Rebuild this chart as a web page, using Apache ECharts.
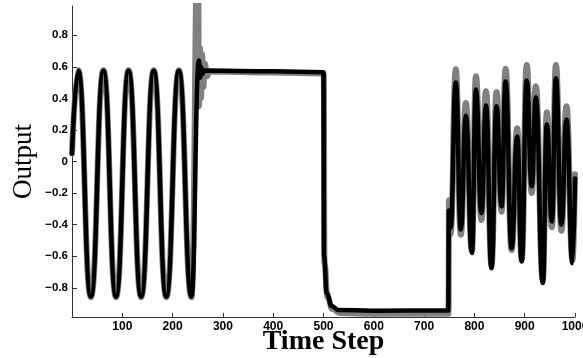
<!DOCTYPE html>
<html>
<head>
<meta charset="utf-8">
<script src="https://cdn.jsdelivr.net/npm/echarts@6/dist/echarts.min.js"></script>
<style>
html,body{margin:0;padding:0;background:#fff;}
#chart{width:583px;height:358px;}
</style>
</head>
<body>
<div id="chart"></div>
<script>
// Tick values
const xTicks = [100, 200, 300, 400, 500, 600, 700, 800, 900, 1000];
const yTicks = [-0.8, -0.6, -0.4, -0.2, 0, 0.2, 0.4, 0.6, 0.8];

// Gray series (target), [time step, value] (extrema and corners)
const targetSeries = [
  [0, 0.05], [12.5, 0.578], [37.5, -0.86], [62.5, 0.578], [87.5, -0.86], [112.5, 0.578],
  [137.5, -0.86], [162.5, 0.578], [187.5, -0.86], [212.5, 0.578], [237.5, -0.86],
  [250.5, 1.4], [252.5, 0.35], [254.5, 0.72], [256.5, 0.4], [258.5, 0.68], [261, 0.47],
  [264, 0.62], [268, 0.54], [273, 0.57], [400, 0.563], [500.5, 0.558],
  [502, -0.65], [508, -0.86], [518, -0.935], [532, -0.96], [600, -0.965], [748.5, -0.965],
  [749.5, -0.245], [752.5, -0.46],
  [763, 0.585], [773, -0.464], [783, 0.37], [795, -0.565], [803, 0.54], [814, -0.37],
  [823, 0.445], [834, -0.66], [844, 0.44], [854, -0.318], [862, 0.587], [874, -0.561],
  [885, 0.21], [894, -0.62], [904, 0.612], [914, -0.2], [922, 0.477], [936, -0.75],
  [944, 0.312], [954, -0.417], [962, 0.612], [973, -0.438], [983, 0.35], [995, -0.625],
  [1000, -0.08]
];

// Black series (output)
const outputSeries = [
  [0, 0.05], [12.5, 0.575], [37.5, -0.855], [62.5, 0.575], [87.5, -0.855], [112.5, 0.575],
  [137.5, -0.855], [162.5, 0.575], [187.5, -0.855], [212.5, 0.575], [237.5, -0.855],
  [252.5, 0.64], [254.5, 0.53], [256.5, 0.6], [259, 0.555], [263, 0.576],
  [400, 0.571], [500, 0.566],
  [501, -0.6], [506.5, -0.835], [516, -0.915], [530, -0.94], [600, -0.945], [748, -0.944],
  [749.3, -0.31], [752.5, -0.42],
  [763, 0.50], [773, -0.43], [783, 0.29], [795, -0.58], [803, 0.456], [814, -0.327],
  [823, 0.355], [834, -0.676], [844, 0.35], [854, -0.284], [862, 0.507], [874, -0.55],
  [885, 0.158], [894, -0.633], [904, 0.513], [914, -0.157], [922, 0.405], [936, -0.77],
  [944, 0.234], [954, -0.38], [962, 0.528], [973, -0.40], [983, 0.266], [995, -0.644],
  [1000, -0.107]
];

const chart = echarts.init(document.getElementById('chart'), null, {renderer: 'canvas'});
const labelFont = {color: '#000', fontWeight: 'bold', fontFamily: 'Liberation Sans, Arial, sans-serif'};
chart.setOption({
  animation: false,
  backgroundColor: '#fff',
  grid: {left: 72, right: 8, top: 6, bottom: 41, containLabel: false, outerBoundsMode: 'none'},
  xAxis: {
    type: 'value', min: 0, max: 1000,
    name: 'Time Step', nameLocation: 'middle', nameGap: 11, nameMoveOverlap: false,
    nameTextStyle: {fontFamily: 'Liberation Serif, Times New Roman, serif', fontSize: 28, fontWeight: 'bold', color: '#000'},
    axisLine: {show: true, onZero: false, lineStyle: {color: '#333', width: 1}},
    axisTick: {show: true, inside: true, length: 4, customValues: xTicks, lineStyle: {color: '#333'}},
    axisLabel: Object.assign({fontSize: 12, margin: 4, customValues: xTicks, hideOverlap: false,
      formatter: v => String(v)}, labelFont),
    splitLine: {show: false}
  },
  yAxis: {
    type: 'value', min: -0.985, max: 0.985,
    name: 'Output', nameLocation: 'middle', nameGap: 35, nameRotate: 90, nameMoveOverlap: false,
    nameTextStyle: {fontFamily: 'Liberation Serif, Times New Roman, serif', fontSize: 27, color: '#000'},
    axisLine: {show: true, onZero: false, lineStyle: {color: '#333', width: 1}},
    axisTick: {show: true, inside: true, length: 5, customValues: yTicks, lineStyle: {color: '#333'}},
    axisLabel: Object.assign({fontSize: 11.5, margin: 4, customValues: yTicks,
      formatter: v => (v < 0 ? '\u2212' + Math.abs(v) : String(v))}, labelFont),
    splitLine: {show: false}
  },
  series: [
    {
      type: 'line', data: targetSeries, showSymbol: false, smooth: 0.5, smoothMonotone: 'x',
      lineStyle: {color: '#808080', width: 6, cap: 'round', join: 'round'}, z: 1
    },
    {
      type: 'line', data: outputSeries, showSymbol: false, smooth: 0.5, smoothMonotone: 'x',
      lineStyle: {color: '#000', width: 4.5, cap: 'round', join: 'round'}, z: 2
    }
  ]
});
</script>
</body>
</html>
